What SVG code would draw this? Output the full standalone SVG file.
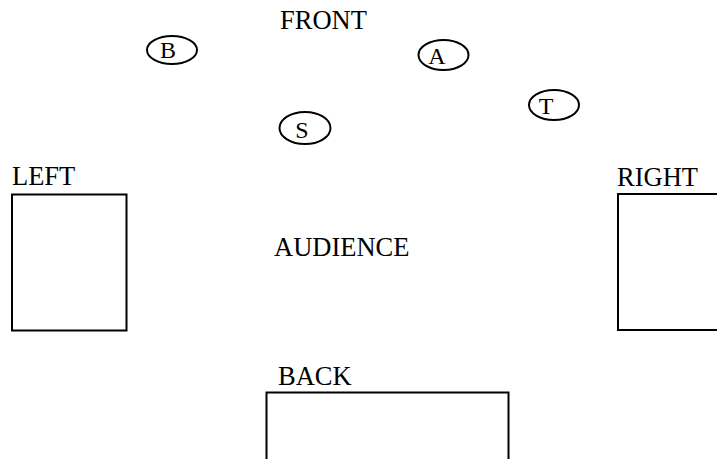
<svg xmlns="http://www.w3.org/2000/svg" width="717" height="459" viewBox="0 0 717 459">
<style>
text{font-family:"Liberation Serif","Times New Roman",serif;font-size:26.5px;fill:#000}
.lbl{font-size:24px;text-anchor:middle}
.shape{fill:none;stroke:#000;stroke-width:2}
</style>
<rect width="717" height="459" fill="#fff"/>
<text x="280" y="29">FRONT</text>
<text x="274" y="256">AUDIENCE</text>
<g id="B"><ellipse class="shape" cx="172" cy="50" rx="25" ry="14"/><text class="lbl" x="168" y="58">B</text></g>
<g id="A"><ellipse class="shape" cx="443.5" cy="55" rx="25" ry="15"/><text class="lbl" x="437" y="64">A</text></g>
<g id="T"><ellipse class="shape" cx="554" cy="105" rx="25" ry="15"/><text class="lbl" x="546" y="114">T</text></g>
<g id="S"><ellipse class="shape" cx="305" cy="128" rx="25.5" ry="16"/><text class="lbl" x="302" y="138">S</text></g>
<g id="LEFT"><text x="12" y="185">LEFT</text><rect class="shape" x="12" y="194.5" width="114.5" height="136"/></g>
<g id="RIGHT"><text x="617" y="186">RIGHT</text><rect class="shape" x="618" y="194" width="110" height="136"/></g>
<g id="BACK"><text x="278" y="385">BACK</text><rect class="shape" x="266.5" y="392.5" width="242" height="80"/></g>
<g id="connectors"/>
</svg>
